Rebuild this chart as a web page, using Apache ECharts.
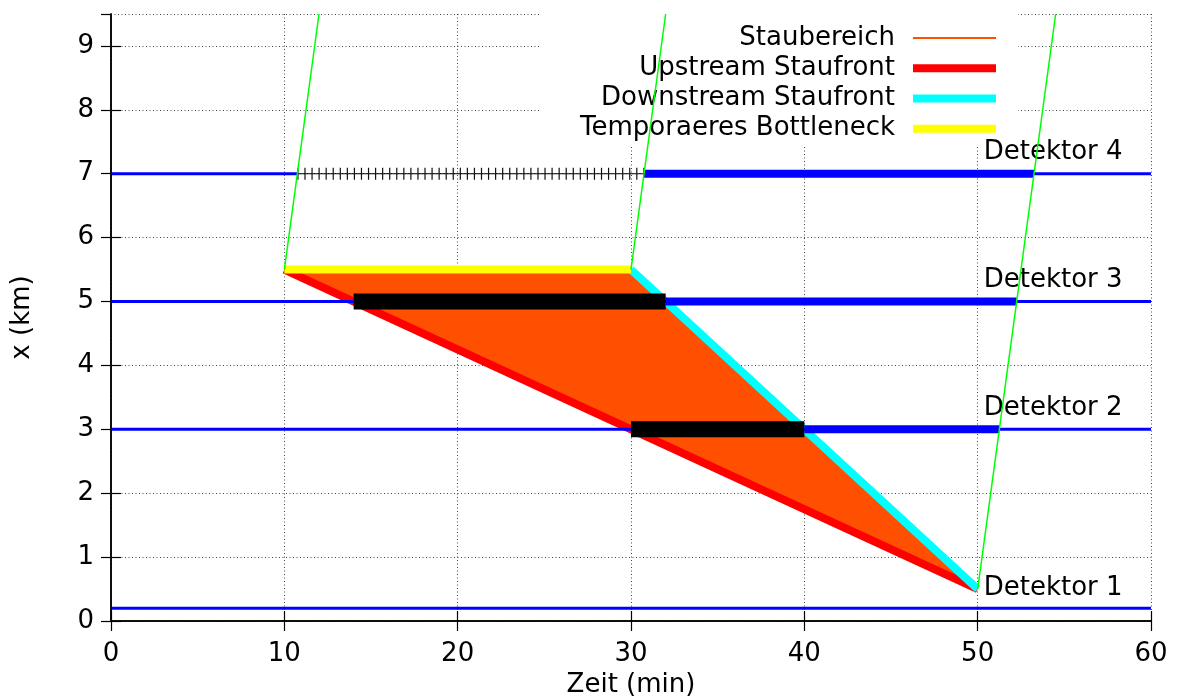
<!DOCTYPE html>
<html>
<head>
<meta charset="utf-8">
<script src="https://cdn.jsdelivr.net/npm/echarts@6/dist/echarts.min.js"></script>
<style>html,body{margin:0;padding:0;background:#fff}#c{width:1183px;height:699px}</style>
</head>
<body>
<div id="c"></div>
<script>
// ---- data ----
var xTicks = [0, 10, 20, 30, 40, 50, 60];
var yTicks = [0, 1, 2, 3, 4, 5, 6, 7, 8, 9];
var staubereich = [[10, 5.5], [30, 5.5], [50, 0.5]];
var upstreamFront = [[10, 5.5], [50, 0.5]];
var downstreamFront = [[30, 5.5], [50, 0.5]];
var bottleneck = [[10, 5.5], [30, 5.5]];
var trajectory1 = [[10, 5.5], [12, 9.5]];
var trajectory2 = [[30, 5.5], [32, 9.5]];
var trajectory3 = [[50, 0.5], [54.5, 9.5]];
// detector segments: [tStart, tEnd, x]
var thinDetector = [[0, 60, 0.2], [0, 60, 3], [0, 60, 5], [0, 10.75, 7], [53.25, 60, 7]];
var thickDetector = [[40, 51.25, 3], [32, 52.25, 5], [30.75, 53.25, 7]];
var blackBars = [[30, 40, 3], [14, 32, 5]];
var hatchSegment = [[10.75, 30.75, 7]];
var detectorNames = ['Detektor 1', 'Detektor 2', 'Detektor 3', 'Detektor 4'];
var detectorLabelPos = [[50.35, 0.52], [50.35, 3.33], [50.35, 5.33], [50.35, 7.33]];

var FONT = 'DejaVu Sans';
var ORANGE = '#ff4f00';

function segSeries(segs, style, z) {
  return segs.map(function (s) {
    return {
      type: 'line', data: [[s[0], s[2]], [s[1], s[2]]], symbol: 'none', z: z,
      lineStyle: style, silent: true, animation: false
    };
  });
}
function lineSeries(name, data, style, z) {
  return { name: name, type: 'line', data: data, symbol: 'none', z: z, lineStyle: style, silent: true };
}

var series = [];
series.push({
  name: 'fill', type: 'custom', z: 2, silent: true,
  data: staubereich,
  renderItem: function (params, api) {
    if (params.dataIndex !== 0) return null;
    var pts = staubereich.map(function (p) { return api.coord(p); });
    return { type: 'polygon', shape: { points: pts }, style: { fill: ORANGE } };
  }
});
series.push(lineSeries('Staubereich', [], { color: ORANGE, width: 2 }, 1));
series.push(lineSeries('Upstream Staufront', upstreamFront, { color: '#ff0000', width: 8, cap: 'butt' }, 3));
series.push(lineSeries('Downstream Staufront', downstreamFront, { color: '#00ffff', width: 8, cap: 'butt' }, 3));
series.push(lineSeries('Temporaeres Bottleneck', bottleneck, { color: '#ffff00', width: 8, cap: 'butt' }, 3));
series = series.concat(segSeries(thinDetector, { color: '#0000ff', width: 3 }, 4));
series = series.concat(segSeries(thickDetector, { color: '#0000ff', width: 8, cap: 'butt' }, 5));
series = series.concat(segSeries(blackBars, { color: '#000000', width: 16, cap: 'butt' }, 6));
series = series.concat(segSeries(hatchSegment, { color: '#000000', width: 1.2 }, 6));
series = series.concat(segSeries(hatchSegment, { color: '#111111', width: 12, type: [1.2, 5.86], cap: 'butt' }, 6));
[trajectory1, trajectory2, trajectory3].forEach(function (t) {
  series.push({ type: 'line', data: t, symbol: 'none', z: 12, silent: true, lineStyle: { color: '#00ff00', width: 1.5 } });
});
series.push({
  type: 'scatter', z: 8, silent: true, symbolSize: 0,
  itemStyle: { opacity: 1 },
  data: detectorLabelPos.map(function (p, i) { return { name: detectorNames[i], value: p }; }),
  label: {
    show: true, position: 'right', distance: 0, formatter: '{b}', opacity: 1,
    fontFamily: FONT, fontSize: 26, color: '#000000', verticalAlign: 'middle'
  }
});

var axisLineStyle = { color: '#000', width: 1.5 };
var tickStyle = { color: '#000', width: 1.2 };
var option = {
  animation: false,
  backgroundColor: '#fff',
  grid: { left: 111, right: 32, top: 14, bottom: 78, containLabel: false, outerBoundsMode: 'none' },
  legend: {
    orient: 'vertical', align: 'right', right: 165, top: 14,
    padding: [9, 18, 3, 40], itemGap: 0, itemWidth: 83, itemHeight: 14,
    backgroundColor: '#fff', selectedMode: false, z: 8,
    itemStyle: { opacity: 0 },
    textStyle: { fontFamily: FONT, fontSize: 26, color: '#000', lineHeight: 30.2, padding: [0, 13, 0, 0] },
    data: [
      { name: 'Staubereich', lineStyle: { width: 2, color: ORANGE } },
      { name: 'Upstream Staufront', lineStyle: { width: 8, color: '#ff0000' } },
      { name: 'Downstream Staufront', lineStyle: { width: 8, color: '#00ffff' } },
      { name: 'Temporaeres Bottleneck', lineStyle: { width: 8, color: '#ffff00' } }
    ]
  },
  xAxis: [{
    type: 'value', min: xTicks[0], max: xTicks[xTicks.length - 1], interval: 10, position: 'bottom',
    name: 'Zeit (min)', nameLocation: 'middle', nameGap: 51,
    nameTextStyle: { fontFamily: FONT, fontSize: 26, color: '#000' },
    axisLine: { show: true, lineStyle: axisLineStyle },
    axisTick: { show: true, inside: true, length: 10, lineStyle: tickStyle },
    axisLabel: { fontFamily: FONT, fontSize: 26, color: '#000', margin: 20 },
    splitLine: { show: true, lineStyle: { color: '#444', width: 1, type: [1, 2.5] } }
  }, {
    type: 'value', min: xTicks[0], max: xTicks[xTicks.length - 1], interval: 10, position: 'top', z: 10,
    axisLine: { show: true, lineStyle: axisLineStyle },
    axisTick: { show: true, inside: true, length: 10, lineStyle: tickStyle },
    axisLabel: { show: false }, splitLine: { show: false }
  }],
  yAxis: [{
    type: 'value', min: yTicks[0], max: 9.5, interval: 1, position: 'left',
    name: 'x (km)', nameLocation: 'middle', nameGap: 76,
    nameTextStyle: { fontFamily: FONT, fontSize: 26, color: '#000' },
    axisLine: { show: true, lineStyle: axisLineStyle },
    axisTick: { show: true, inside: true, length: 10, lineStyle: tickStyle },
    axisLabel: {
      fontFamily: FONT, fontSize: 26, color: '#000', margin: 17, showMaxLabel: false,
      formatter: function (v) { return yTicks.indexOf(v) >= 0 ? String(v) : ''; }
    },
    splitLine: { show: true, lineStyle: { color: '#444', width: 1, type: [1, 2.5] } }
  }, {
    type: 'value', min: yTicks[0], max: 9.5, interval: 1, position: 'right', z: 10,
    axisLine: { show: true, lineStyle: axisLineStyle },
    axisTick: { show: true, inside: true, length: 10, lineStyle: tickStyle },
    axisLabel: { show: false }, splitLine: { show: false }
  }],
  series: series
};
var chart = echarts.init(document.getElementById('c'), null, { renderer: 'canvas' });
chart.setOption(option);
</script>
</body>
</html>
